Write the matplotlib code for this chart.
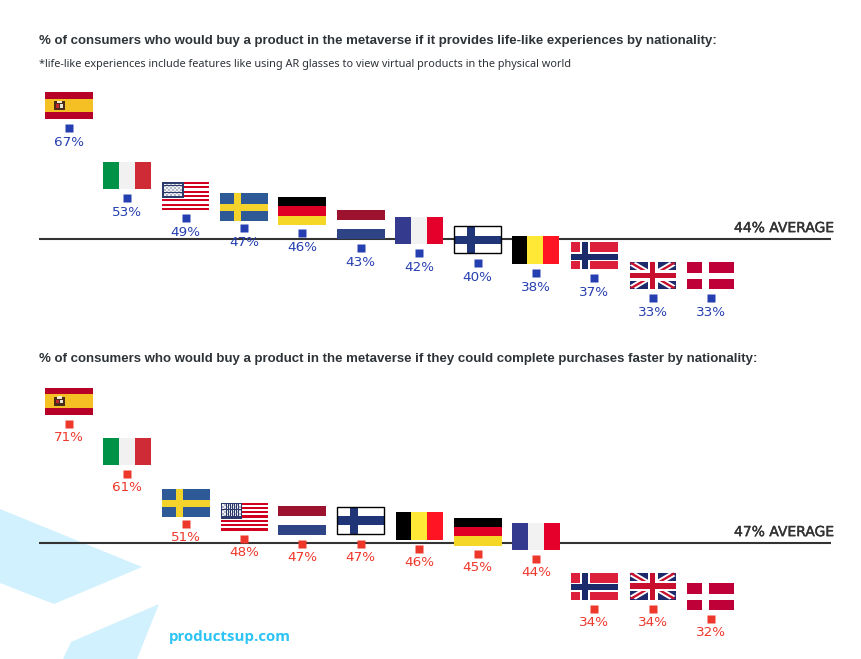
import matplotlib
matplotlib.use("Agg")
import matplotlib.pyplot as plt
import matplotlib.patheffects as pe
from matplotlib.patches import Rectangle, Polygon
from matplotlib.transforms import Affine2D

W, H = 861, 659

# top chart
countries_life = ["ES", "IT", "US", "SE", "DE", "NL", "FR", "FI", "BE", "NO", "UK", "DK"]
values_life = [67, 53, 49, 47, 46, 43, 42, 40, 38, 37, 33, 33]
avg_life_label = "44% AVERAGE"
avg_life_line = 44.8  # line sits a bit above where 44 would land

# bottom chart
countries_fast = ["ES", "IT", "SE", "US", "NL", "FI", "BE", "DE", "FR", "NO", "UK", "DK"]
values_fast = [71, 61, 51, 48, 47, 47, 46, 45, 44, 34, 34, 32]
avg_fast_label = "47% AVERAGE"
avg_fast_line = 47.1

title_life = "% of consumers who would buy a product in the metaverse if it provides life-like experiences by nationality:"
subtitle_life = "*life-like experiences include features like using AR glasses to view virtual products in the physical world"
title_fast = "% of consumers who would buy a product in the metaverse if they could complete purchases faster by nationality:"

BLUE = "#263fb0"
RED = "#ee372b"
DARK = "#333333"
TEXT = "#2e3338"
SKY = "#d0f1fd"

# flag sizes differ a little in the source, in pixels
flag_w = {"US": 47, "UK": 46, "NO": 47, "BE": 47, "DK": 47, "FI": 47}
flag_h = {"DE": 28, "NL": 29, "BE": 28, "US": 28, "SE": 28}
flag_gap = {"SE": 7, "DE": 8, "US": 8, "FI": 10}


def stripes_v(colors, widths=None):
    widths = widths or [1 / len(colors)] * len(colors)
    out, x = [], 0
    for c, w in zip(colors, widths):
        out.append((x, 0, w, 1, c))
        x += w
    return out


def stripes_h(colors, heights=None):
    heights = heights or [1 / len(colors)] * len(colors)
    out, y = [], 0
    for c, h in zip(colors, heights):
        out.append((0, y, 1, h, c))
        y += h
    return out


def draw_flag(ax, code, i, v):
    fw = flag_w.get(code, 48)
    fh = flag_h.get(code, 27)
    gap = flag_gap.get(code, 9)
    px, py = ax.transData.transform((i, v))
    tr = Affine2D().scale(fw, -fh).translate(px - fw / 2, py + gap + fh)
    rects = []
    if code == "ES":
        rects = stripes_h(["#b70027", "#f5c024", "#b70027"], [0.25, 0.5, 0.25])
        rects += [(0.19, 0.35, 0.22, 0.33, "#4a2c1c"), (0.24, 0.33, 0.12, 0.08, "#f2ead0"),
                  (0.22, 0.45, 0.07, 0.14, "#c1272d"), (0.31, 0.45, 0.07, 0.14, "#e8e2d0")]
    elif code == "IT":
        rects = stripes_v(["#009246", "#f1f1f1", "#ce2b37"])
    elif code == "US":
        for s in range(13):
            rects.append((0, s / 13, 1, 1 / 13, "#d2001f" if s % 2 == 0 else "#ffffff"))
        rects.append((0, 0, 0.46, 0.58, "#2b3a6b"))
        # stars end up as a grey speckle at this size
        for r in range(7):
            for c in range(9):
                col = "#f0f1f5" if (r + c) % 2 == 0 else "#b4b8c6"
                rects.append((0.04 + c * 0.043, 0.07 + r * 0.062, 0.04, 0.055, col))
    elif code == "SE":
        rects = [(0, 0, 1, 1, "#2d5a96"), (0.29, 0, 0.145, 1, "#f3d22c"), (0, 0.4, 1, 0.25, "#f3d22c")]
    elif code == "DE":
        rects = stripes_h(["#000000", "#e00025", "#f5d827"])
    elif code == "NL":
        rects = stripes_h(["#9c122f", "#ffffff", "#2f4485"], [0.35, 0.31, 0.34])
    elif code == "FR":
        rects = stripes_v(["#343b8f", "#f2f2f2", "#e4002b"])
    elif code == "FI":
        rects = [(0, 0, 1, 1, "#ffffff"), (0.28, 0, 0.17, 1, "#1f3578"), (0, 0.36, 1, 0.31, "#1f3578")]
    elif code == "BE":
        rects = stripes_v(["#000000", "#ffe936", "#ff1424"], [0.32, 0.34, 0.34])
    elif code == "NO":
        rects = [(0, 0, 1, 1, "#dc1f3a"),
                 (0.2, 0, 0.2, 1, "#ffffff"), (0, 0.38, 1, 0.33, "#ffffff"),
                 (0.25, 0, 0.12, 1, "#1b2a6b"), (0, 0.44, 1, 0.21, "#1b2a6b")]
    elif code == "DK":
        rects = [(0, 0, 1, 1, "#bf0038"), (0.31, 0, 0.14, 1, "#ffffff"), (0, 0.41, 1, 0.22, "#ffffff")]
    elif code == "UK":
        rects = [(0, 0, 1, 1, "#1f2a6d")]

    for x0, y0, w, h, c in rects:
        ax.add_patch(Rectangle((x0, y0), w, h, fc=c, ec="none", transform=tr, zorder=3, clip_on=False))

    if code == "FI":
        ax.add_patch(Rectangle((0, 0), 1, 1, fc="none", ec="black", lw=1.0, transform=tr, zorder=3, clip_on=False))
    if code == "UK":
        for pts, c in [([(0, 0.13), (0.13, 0), (1, 0.87), (0.87, 1), ], "#ffffff"),
                       ([(0, 0.87), (0.87, 0), (1, 0.13), (0.13, 1)], "#ffffff"),
                       ([(0, 0.05), (0.05, 0), (1, 0.95), (0.95, 1)], "#c8102e"),
                       ([(0, 0.95), (0.95, 0), (1, 0.05), (0.05, 1)], "#c8102e")]:
            ax.add_patch(Polygon(pts, fc=c, ec="none", transform=tr, zorder=3, clip_on=False))
        for r in [(0.39, 0, 0.22, 1, "#ffffff"), (0, 0.3, 1, 0.4, "#ffffff"),
                  (0.44, 0, 0.12, 1, "#c8102e"), (0, 0.39, 1, 0.22, "#c8102e")]:
            ax.add_patch(Rectangle(r[:2], r[2], r[3], fc=r[4], ec="none", transform=tr, zorder=3, clip_on=False))


def draw_panel(fig, top_px, bottom_px, v_at_top, countries, values, color, avg_line, avg_label):
    ax = fig.add_axes([39 / W, 1 - bottom_px / H, 792 / W, (bottom_px - top_px) / H])
    ax.patch.set_alpha(0)
    ax.axis("off")
    ax.set_xlim(-30 / 58.36, 762 / 58.36)
    ax.set_ylim(v_at_top - (bottom_px - top_px) / 5, v_at_top)
    xs = list(range(len(values)))
    ax.axhline(avg_line, color=DARK, lw=1.5, zorder=1)
    ax.plot(xs, values, ls="none", marker="s", ms=6.3, mec="none", color=color, zorder=4)
    for i, v in enumerate(values):
        draw_flag(ax, countries[i], i, v)
        ax.annotate(f"{v}%", (i, v), xytext=(0, -10.3), textcoords="offset points",
                    ha="center", va="center", color=color, fontsize=9.7, zorder=5)
    t = ax.annotate(avg_label, (1, avg_line), xycoords=("axes fraction", "data"), xytext=(2, 2.8),
                    textcoords="offset points", ha="right", va="bottom", color=DARK,
                    fontsize=10, family="DejaVu Sans", zorder=5)
    t.set_path_effects([pe.withStroke(linewidth=0.3, foreground=DARK)])
    return ax


fig = plt.figure(figsize=(W / 100, H / 100), dpi=100, facecolor="white")

# pale shapes in the bottom left corner
bg = fig.add_axes([0, 0, 1, 1])
bg.set_xlim(0, W)
bg.set_ylim(H, 0)
bg.axis("off")
bg.add_patch(Polygon([(0, 509), (142, 567), (54, 604), (0, 583)], fc=SKY, ec="none"))
bg.add_patch(Polygon([(159, 604), (71, 642), (63, 659), (137, 659)], fc=SKY, ec="none"))

draw_panel(fig, 80, 330, 76.6, countries_life, values_life, BLUE, avg_life_line, avg_life_label)
draw_panel(fig, 375, 650, 80.7, countries_fast, values_fast, RED, avg_fast_line, avg_fast_label)

fig.text(39 / W, 1 - 41 / H, title_life, fontsize=9.55, fontweight="bold", family="Liberation Sans",
         color=TEXT, va="center", ha="left")
fig.text(39 / W, 1 - 65 / H, subtitle_life, fontsize=7.85, family="Noto Sans",
         color=TEXT, va="center", ha="left")
fig.text(39 / W, 1 - 359 / H, title_fast, fontsize=9.55, fontweight="bold", family="Liberation Sans",
         color=TEXT, va="center", ha="left")
fig.text(169 / W, 1 - 637 / H, "productsup.com", fontsize=10.8, fontweight="bold", family="Open Sans",
         color="#2cc3f5", va="center", ha="left")

fig.savefig("out.png", dpi=100)
